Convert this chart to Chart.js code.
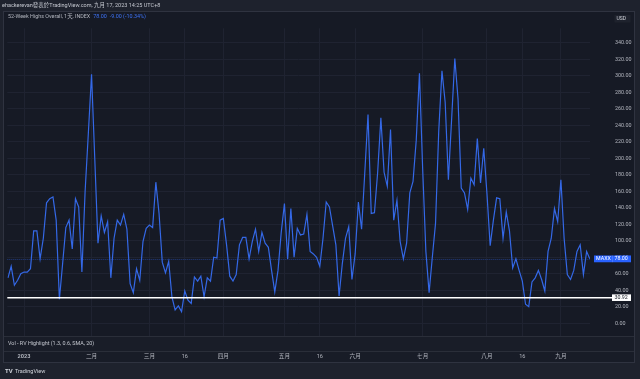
<!DOCTYPE html>
<html>
<head>
<meta charset="utf-8">
<script src="https://cdn.jsdelivr.net/npm/chart.js@4/dist/chart.umd.min.js"></script>
<style>
html,body{margin:0;padding:0;background:#1e222d;}
#wrap{position:relative;width:640px;height:379px;}
canvas{display:block;}
</style>
</head>
<body>
<div id="wrap"><canvas id="c" width="640" height="379"></canvas></div>
<script>
// ---- data ----
const seriesName = '52-Week Highs Overall, 1天, INDEX';
const highsValues = [
  55, 69, 46, 52, 60, 62, 62, 66, 112, 112,
  78, 103, 146, 151, 153, 125, 29, 72, 116, 125,
  90, 151, 141, 62, 160, 230, 302, 200, 97, 130,
  110, 123, 55, 103, 125, 119, 132, 114, 48, 37,
  66, 52, 99, 115, 119, 116, 171, 133, 74, 61,
  75, 32, 16, 21, 14, 39, 28, 24, 56, 51,
  57, 32, 55, 51, 80, 79, 125, 127, 95, 57,
  51, 59, 95, 104, 104, 78, 99, 114, 87, 110,
  97, 92, 64, 38, 64, 110, 145, 78, 139, 80,
  115, 107, 108, 132, 87, 84, 80, 69, 103, 147,
  141, 118, 95, 33, 72, 103, 117, 53, 84, 147,
  114, 183, 253, 133, 134, 183, 249, 183, 166, 235,
  125, 149, 99, 78, 97, 158, 172, 222, 303, 187,
  87, 37, 80, 121, 233, 306, 268, 174, 247, 321,
  272, 164, 158, 138, 176, 168, 224, 170, 212, 157,
  94, 125, 152, 151, 103, 135, 112, 67, 78, 64,
  51, 23, 20, 50, 55, 64, 53, 39, 87, 103,
  139, 123, 174, 103, 59, 53, 64, 87, 95, 59,
  87, 78
];
const timeTickIndex = [5, 26, 44, 55, 67, 86, 97, 108, 129, 149, 160, 172];
const timeTickLabels = ['2023', '二月', '三月', '16', '四月', '五月', '16', '六月', '七月', '八月', '16', '九月'];
const priceTicks = [0, 20, 40, 60, 80, 100, 120, 140, 160, 180, 200, 220, 240, 260, 280, 300, 320, 340];
const lastValue = 78.00;
const lastChange = -9.00;
const lastChangePct = -10.34;
const levelValue = 30.92;
const headerText = 'ehackerevan發表於TradingView.com, 九月 17, 2023 14:25 UTC+8';
const paneText = 'Vol - RV Highlight (1.3, 0.6, SMA, 20)';

// ---- styles ----
const FONT = 'Roboto, "Noto Sans CJK TC", "Noto Sans", sans-serif';
const BLUE = '#3468e6';
const TXT = '#b2b5be';
const GRID = '#1f2331';

Chart.defaults.font.family = FONT;

const decor = {
  id: 'decor',
  beforeDraw(chart) {
    const c = chart.ctx;
    c.save();
    c.fillStyle = '#1e222d';
    c.fillRect(0, 0, 640, 379);
    c.fillStyle = '#161a25';
    c.fillRect(4, 12, 630, 324);
    c.fillStyle = '#191d28';
    c.fillRect(4, 336, 630, 15);
    c.fillStyle = '#181c27';
    c.fillRect(4, 351, 630, 12);
    c.restore();
  },
  beforeDatasetsDraw(chart) {
    const c = chart.ctx, a = chart.chartArea, y = chart.scales.y;
    const py = Math.round(y.getPixelForValue(lastValue)) + 0.5;
    c.save();
    c.strokeStyle = 'rgba(47,102,236,0.45)';
    c.lineWidth = 1;
    c.setLineDash([1, 1]);
    c.beginPath();
    c.moveTo(a.left, py);
    c.lineTo(a.right, py);
    c.stroke();
    c.restore();
  },
  afterDatasetsDraw(chart) {
    const c = chart.ctx, a = chart.chartArea, y = chart.scales.y;
    c.save();
    const ly = y.getPixelForValue(levelValue);
    c.strokeStyle = '#ffffff';
    c.lineWidth = 1.5;
    c.beginPath();
    c.moveTo(a.left, ly);
    c.lineTo(612, ly);
    c.stroke();
    c.fillStyle = '#ffffff';
    c.fillRect(612, ly - 3.3, 19, 6.6);
    c.fillStyle = '#131722';
    c.font = '5.3px ' + FONT;
    c.textBaseline = 'middle';
    c.textAlign = 'left';
    c.fillText(levelValue.toFixed(2), 614.5, ly + 0.3);
    const vy = y.getPixelForValue(lastValue);
    c.fillStyle = '#2962ff';
    c.fillRect(594, vy - 3.4, 37, 6.8);
    c.fillStyle = 'rgba(255,255,255,0.25)';
    c.fillRect(612, vy - 3.4, 0.6, 6.8);
    c.fillStyle = '#ffffff';
    c.fillText('MAXX', 596, vy + 0.3);
    c.fillText(lastValue.toFixed(2), 614.5, vy + 0.3);
    c.fillStyle = '#1e222d';
    c.fillRect(614.5, 15, 16, 7.5);
    c.fillStyle = '#d1d4dc';
    c.font = '5px ' + FONT;
    c.fillText('USD', 616.5, 19);
    c.fillStyle = '#c5c8d0';
    c.font = '5.5px ' + FONT;
    c.fillText(headerText, 2, 5.5);
    c.fillStyle = TXT;
    c.font = '5.4px ' + FONT;
    c.fillText(seriesName, 8, 17);
    let x = 8 + c.measureText(seriesName).width + 3;
    c.fillStyle = '#3d72f5';
    const s1 = lastValue.toFixed(2);
    c.fillText(s1, x, 17);
    x += c.measureText(s1).width + 3;
    const s2 = lastChange.toFixed(2) + ' (' + lastChangePct.toFixed(2) + '%)';
    c.fillText(s2, x, 17);
    c.fillStyle = '#c5c8d0';
    c.font = '5.4px ' + FONT;
    c.fillText(paneText, 8, 343.5);
    c.strokeStyle = '#2a2e39';
    c.lineWidth = 1;
    c.beginPath();
    c.moveTo(4, 336.5); c.lineTo(634, 336.5);
    c.moveTo(4, 351.5); c.lineTo(634, 351.5);
    c.stroke();
    c.strokeStyle = '#2f3340';
    c.strokeRect(3.5, 11.5, 631, 351);
    c.fillStyle = '#d1d4dc';
    c.font = 'bold 6px ' + FONT;
    c.fillText('TV', 5, 371.5);
    c.font = '5.5px ' + FONT;
    c.fillText('TradingView', 15, 371.5);
    c.restore();
  }
};

new Chart(document.getElementById('c'), {
  type: 'line',
  data: {
    datasets: [{
      label: seriesName,
      data: highsValues.map((v, i) => ({ x: i, y: v })),
      borderColor: BLUE,
      borderWidth: 1.2,
      pointRadius: 0,
      tension: 0,
      fill: false
    }]
  },
  options: {
    responsive: false,
    animation: false,
    devicePixelRatio: 1,
    layout: { padding: { left: 4, top: 12, right: 6, bottom: 16 } },
    plugins: { legend: { display: false }, tooltip: { enabled: false } },
    scales: {
      x: {
        type: 'linear',
        min: -0.207,
        max: 181.05,
        afterBuildTicks: s => { s.ticks = timeTickIndex.map(v => ({ value: v })); },
        afterFit: s => { s.height = 27; },
        ticks: {
          autoSkip: false,
          maxRotation: 0,
          padding: 17.5,
          color: TXT,
          font: ctx => ({ size: 5.6, weight: (ctx.tick && ctx.tick.value === timeTickIndex[0]) ? 'bold' : 'normal' }),
          callback: v => timeTickLabels[timeTickIndex.indexOf(v)]
        },
        grid: { color: GRID, drawTicks: false },
        border: { display: false }
      },
      y: {
        type: 'linear',
        position: 'right',
        min: -15.55,
        max: 357.7,
        afterBuildTicks: s => { s.ticks = priceTicks.map(v => ({ value: v })); },
        afterFit: s => { s.width = 44; },
        ticks: {
          padding: 25,
          crossAlign: 'near',
          color: TXT,
          font: { size: 5.4 },
          callback: v => Number(v).toFixed(2)
        },
        grid: { color: GRID, drawTicks: false },
        border: { display: false }
      }
    }
  },
  plugins: [decor]
});
</script>
</body>
</html>
